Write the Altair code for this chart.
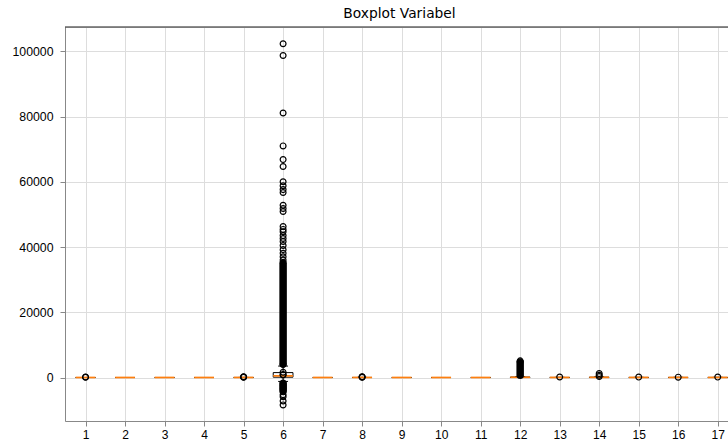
import altair as alt
import pandas as pd

# ---- data ----
variables = list(range(1, 18))
q1 = [0, 0, 0, 0, 0, 100, 0, 0, 0, 0, 0, 20, 0, 10, 0, 0, 0]
medians = [1, 0, 1, 0, 5, 500, 1, 5, 0, 0, 0, 60, 10, 40, 10, 10, 10]
q3 = [3, 1, 2, 1, 15, 1500, 2, 15, 1, 1, 1, 120, 25, 90, 25, 25, 25]
whisk_lo = [0, 0, 0, 0, 0, -1200, 0, 0, 0, 0, 0, 0, 0, 0, 0, 0, 0]
whisk_hi = [7, 2, 5, 2, 35, 3500, 5, 35, 2, 2, 2, 270, 60, 210, 60, 60, 60]

# individual outliers (variable, value)
out_var = [1, 1, 5, 5, 5, 8, 8, 8, 12, 12, 13, 14, 14, 14, 15, 16, 17,
           6, 6, 6, 6, 6, 6, 6, 6, 6, 6, 6, 6, 6,
           6, 6, 6, 6, 6, 6, 6, 6, 6, 6, 6, 6, 6,
           6, 6, 6, 6, 6, 6, 6, 6, 6, 6, 6, 6]
out_val = [60, 150, 80, 180, 260, 70, 160, 240, 4800, 5100, 150, 300, 700, 1200, 120, 110, 130,
           102300, 98700, 81100, 71000, 66800, 64700, 60000, 58800, 57600, 56700, 52800, 51800, 50900,
           46300, 45400, 44700, 43500, 42600, 41700, 40500, 39200, 38100, 37000, 36000, 4000, -1700,
           -2200, -2700, -3200, -3700, -4400, -5300, -5900, -7200, -8400, 1600, 900, 800]

# ranges packed so densely with outliers that they merge into a solid column
band_var = [6, 6, 12]
band_lo = [4200, -4000, 700]
band_hi = [35000, -1900, 4500]

y_ticks = [0, 20000, 40000, 60000, 80000, 100000]

box_df = pd.DataFrame({"var": variables, "q1": q1, "med": medians, "q3": q3,
                       "lo": whisk_lo, "hi": whisk_hi})
out_df = pd.DataFrame({"var": out_var, "value": out_val})
band_df = pd.DataFrame({"var": band_var, "lo": band_lo, "hi": band_hi})

W, H = 663, 394
xscale = alt.Scale(domain=[0.48, 17.26], nice=False, zero=False)
yscale = alt.Scale(domain=[-13335, 107450], nice=False, zero=False)
xaxis = alt.Axis(values=variables, format="d", grid=True, title=None,
                 labelFontSize=12, labelPadding=3)
yaxis = alt.Axis(values=y_ticks, format="d", grid=True, title=None,
                 labelFontSize=12.3, labelPadding=7)

base = alt.Chart(box_df).transform_calculate(
    left="datum.var - 0.25", right="datum.var + 0.25",
    cl="datum.var - 0.125", cr="datum.var + 0.125")

boxes = base.mark_rect(fillOpacity=0, stroke="black", strokeWidth=1).encode(
    x=alt.X("left:Q", scale=xscale, axis=xaxis),
    x2="right:Q",
    y=alt.Y("q1:Q", scale=yscale, axis=yaxis),
    y2="q3:Q")

whisk_low = base.mark_rule(color="black", strokeWidth=1).encode(
    x=alt.X("var:Q", scale=xscale), y=alt.Y("lo:Q", scale=yscale), y2="q1:Q")
whisk_high = base.mark_rule(color="black", strokeWidth=1).encode(
    x=alt.X("var:Q", scale=xscale), y=alt.Y("q3:Q", scale=yscale), y2="hi:Q")
cap_low = base.mark_rule(color="black", strokeWidth=1).encode(
    x=alt.X("cl:Q", scale=xscale), x2="cr:Q", y=alt.Y("lo:Q", scale=yscale))
cap_high = base.mark_rule(color="black", strokeWidth=1).encode(
    x=alt.X("cl:Q", scale=xscale), x2="cr:Q", y=alt.Y("hi:Q", scale=yscale))
median = base.mark_rule(color="#ff7f0e", strokeWidth=1.7).encode(
    x=alt.X("left:Q", scale=xscale), x2="right:Q", y=alt.Y("med:Q", scale=yscale))

bands = alt.Chart(band_df).mark_rule(color="black", strokeWidth=7.5, strokeCap="round").encode(
    x=alt.X("var:Q", scale=xscale), y=alt.Y("lo:Q", scale=yscale), y2="hi:Q")

fliers = alt.Chart(out_df).mark_point(shape="circle", filled=False, size=34,
                                      stroke="black", strokeWidth=1.2, opacity=1).encode(
    x=alt.X("var:Q", scale=xscale), y=alt.Y("value:Q", scale=yscale))

top_frame = alt.Chart(pd.DataFrame({"a": [0]})).mark_rule(color="black", strokeWidth=0.9).encode(
    x=alt.value(0), x2=alt.value(W), y=alt.value(0))

chart = alt.layer(boxes, whisk_low, whisk_high, cap_low, cap_high, median, bands, fliers, top_frame).properties(
    width=W, height=H,
    autosize="none",
    padding={"left": 65, "top": 27, "right": 0, "bottom": 21},
    title=alt.TitleParams("Boxplot Variabel", fontSize=13.8, font="DejaVu Sans",
                          fontWeight="normal", color="black", anchor="middle", offset=6, dx=3),
).configure_view(stroke=None).configure_axis(
    labelFont="DejaVu Sans", labelColor="#222222",
    gridColor="#acacac", gridWidth=1, gridOpacity=1,
    domainColor="black", domainWidth=0.9,
    tickColor="black", tickSize=3.5, tickWidth=0.8,
).configure(background="white")

chart.save("out.html", embed_options={"renderer": "svg", "actions": False})
